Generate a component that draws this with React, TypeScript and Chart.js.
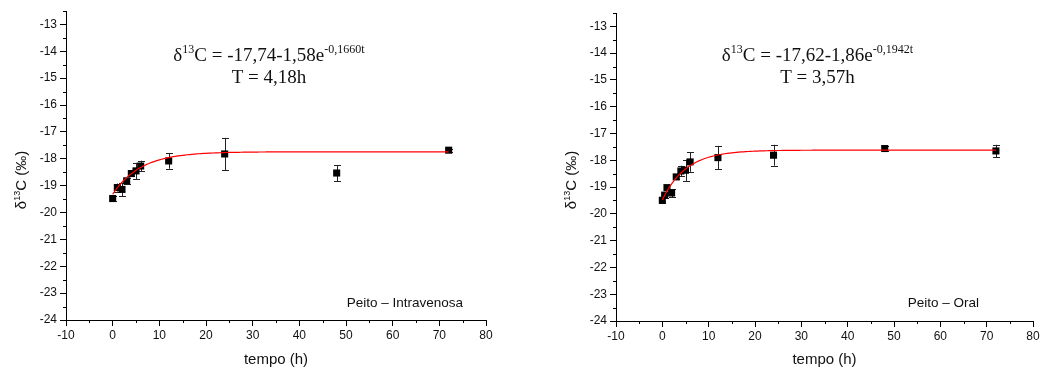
import React, { useEffect, useRef } from 'react';
import { Chart, registerables } from 'chart.js';
Chart.register(...registerables);

const xTicks = [-10, 0, 10, 20, 30, 40, 50, 60, 70, 80];
const yTicks = [-24, -23, -22, -21, -20, -19, -18, -17, -16, -15, -14, -13];
const xMinor = [-5, 5, 15, 25, 35, 45, 55, 65, 75];
const yMinor = [-23.5, -22.5, -21.5, -20.5, -19.5, -18.5, -17.5, -16.5, -15.5, -14.5, -13.5, -12.5];

// Peito – Intravenosa
const ivTime = [0, 1, 2, 3, 4, 5, 6, 12, 24, 48, 72];
const ivMean = [-19.48, -19.07, -19.14, -18.82, -18.55, -18.45, -18.27, -18.08, -17.82, -18.53, -17.68];
const ivErr = [0.08, 0.15, 0.25, 0.1, 0.08, 0.3, 0.2, 0.29, 0.6, 0.3, 0.05];
const ivFit = { a: -17.74, b: 1.58, k: 0.166 };

// Peito – Oral
const oralTime = [0, 0.5, 1, 2, 3, 4, 5, 6, 12, 24, 48, 72];
const oralMean = [-19.49, -19.3, -19.02, -19.22, -18.62, -18.4, -18.37, -18.06, -17.9, -17.81, -17.56, -17.65];
const oralErr = [0.1, 0.12, 0.1, 0.15, 0.08, 0.2, 0.4, 0.37, 0.44, 0.39, 0.1, 0.23];
const oralFit = { a: -17.62, b: 1.86, k: 0.1942 };

const fitTimes: number[] = [];
for (let t = 0; t <= 72; t += 0.5) fitTimes.push(t);

type Seg = [string, boolean];

interface PanelProps {
  width: number;
  padLeftAxis: number;
  padRight: number;
  padTop: number;
  xAxisH: number;
  time: number[];
  mean: number[];
  err: number[];
  fit: { a: number; b: number; k: number };
  eq: Seg[];
  line2: string;
  label: string;
  labelRightGap: number;
}

function drawSegs(ctx: CanvasRenderingContext2D, segs: Seg[], cx: number, y: number) {
  const normal = '19px "Liberation Serif", "Times New Roman", serif';
  const sup = '12px "Liberation Serif", "Times New Roman", serif';
  let total = 0;
  for (const [s, isSup] of segs) {
    ctx.font = isSup ? sup : normal;
    total += ctx.measureText(s).width;
  }
  let x = cx - total / 2;
  ctx.textAlign = 'left';
  ctx.textBaseline = 'alphabetic';
  for (const [s, isSup] of segs) {
    ctx.font = isSup ? sup : normal;
    ctx.fillText(s, x, isSup ? y - 8 : y);
    x += ctx.measureText(s).width;
  }
}

function Panel(p: PanelProps) {
  const ref = useRef<HTMLCanvasElement>(null);
  useEffect(() => {
    const pts = p.time.map((t, i) => ({ x: t, y: p.mean[i] }));
    const curve = fitTimes.map((t) => ({ x: t, y: p.fit.a - p.fit.b * Math.exp(-p.fit.k * t) }));
    const overlay = {
      id: 'overlay',
      beforeDatasetsDraw(chart: any) {
        const ctx = chart.ctx;
        const xs = chart.scales.x;
        const ys = chart.scales.y;
        ctx.save();
        ctx.strokeStyle = '#222';
        ctx.lineWidth = 1;
        p.time.forEach((t, i) => {
          const px = Math.round(xs.getPixelForValue(t)) + 0.5;
          const y1 = ys.getPixelForValue(p.mean[i] + p.err[i]);
          const y2 = ys.getPixelForValue(p.mean[i] - p.err[i]);
          ctx.beginPath();
          ctx.moveTo(px, y1);
          ctx.lineTo(px, y2);
          ctx.moveTo(px - 3.5, Math.round(y1) + 0.5);
          ctx.lineTo(px + 3.5, Math.round(y1) + 0.5);
          ctx.moveTo(px - 3.5, Math.round(y2) + 0.5);
          ctx.lineTo(px + 3.5, Math.round(y2) + 0.5);
          ctx.stroke();
        });
        ctx.restore();
      },
      afterDraw(chart: any) {
        const ctx = chart.ctx;
        const xs = chart.scales.x;
        const ys = chart.scales.y;
        const area = chart.chartArea;
        ctx.save();
        ctx.strokeStyle = '#000';
        ctx.lineWidth = 1;
        ctx.beginPath();
        xMinor.forEach((v) => {
          const px = Math.round(xs.getPixelForValue(v)) + 0.5;
          ctx.moveTo(px, area.bottom);
          ctx.lineTo(px, area.bottom + 3);
        });
        yMinor.forEach((v) => {
          const py = Math.round(ys.getPixelForValue(v)) + 0.5;
          ctx.moveTo(area.left, py);
          ctx.lineTo(area.left - 3, py);
        });
        ctx.stroke();
        ctx.fillStyle = '#111';
        drawSegs(ctx, p.eq, (area.left + area.right) / 2 - 7, 61);
        drawSegs(ctx, [[p.line2, false]], (area.left + area.right) / 2 - 7, 83);
        ctx.font = '13.5px "Liberation Sans", Arial, sans-serif';
        ctx.textAlign = 'right';
        ctx.fillText(p.label, area.right - p.labelRightGap, 307);
        // x title
        ctx.font = '15px "Liberation Sans", Arial, sans-serif';
        ctx.textAlign = 'center';
        ctx.fillText('tempo (h)', (area.left + area.right) / 2, 364);
        // y title
        const cy = 180;
        const tx = area.left - 45;
        ctx.translate(tx, cy);
        ctx.rotate(-Math.PI / 2);
        const big = '15px "Liberation Sans", Arial, sans-serif';
        const small = '9px "Liberation Sans", Arial, sans-serif';
        const segs: Seg[] = [['δ', false], ['13', true], ['C (‰)', false]];
        let tot = 0;
        segs.forEach(([s, sp]) => { ctx.font = sp ? small : big; tot += ctx.measureText(s).width; });
        let x = -tot / 2;
        ctx.textAlign = 'left';
        segs.forEach(([s, sp]) => {
          ctx.font = sp ? small : big;
          ctx.fillText(s, x, sp ? -1 : 5);
          x += ctx.measureText(s).width;
        });
        ctx.restore();
      },
    };
    const chart = new Chart(ref.current!, {
      type: 'scatter',
      data: {
        datasets: [
          {
            type: 'line',
            data: curve,
            borderColor: '#ff0000',
            borderWidth: 1.2,
            pointRadius: 0,
            fill: false,
            order: 0,
          } as any,
          {
            data: pts,
            pointStyle: 'rect',
            pointRadius: 5,
            backgroundColor: '#000',
            borderColor: '#000',
            borderWidth: 0,
            order: 1,
          },
        ],
      },
      options: {
        animation: false,
        responsive: false,
        events: [],
        layout: { padding: { left: 0, right: p.padRight, top: p.padTop, bottom: 0 } },
        plugins: { legend: { display: false }, tooltip: { enabled: false } },
        scales: {
          x: {
            type: 'linear',
            min: -10,
            max: 80,
            afterBuildTicks: (s: any) => { s.ticks = xTicks.map((v) => ({ value: v })); },
            afterFit: (s: any) => { s.height = p.xAxisH; },
            ticks: { color: '#111', font: { size: 12, family: '"Liberation Sans", Arial, sans-serif' }, padding: 2, maxRotation: 0, autoSkip: false },
            grid: { drawOnChartArea: false, drawTicks: true, tickLength: 6, color: '#000' },
            border: { display: true, color: '#000', width: 1 },
          },
          y: {
            type: 'linear',
            min: -24,
            max: -12.5,
            afterBuildTicks: (s: any) => { s.ticks = yTicks.map((v) => ({ value: v })); },
            afterFit: (s: any) => { s.width = p.padLeftAxis; },
            ticks: { color: '#111', font: { size: 12, family: '"Liberation Sans", Arial, sans-serif' }, padding: 3, autoSkip: false },
            grid: { drawOnChartArea: false, drawTicks: true, tickLength: 6, color: '#000' },
            border: { display: true, color: '#000', width: 1 },
          },
        },
      },
      plugins: [overlay],
    });
    return () => chart.destroy();
  }, []);
  return <canvas ref={ref} width={p.width} height={369} style={{ display: 'block', width: p.width, height: 369 }} />;
}

export default function App() {
  return (
    <div style={{ position: 'absolute', left: 0, top: 0, width: 1043, height: 369, background: '#fff', display: 'flex' }}>
      <Panel
        width={520}
        padLeftAxis={66}
        padRight={34}
        padTop={11}
        xAxisH={49}
        time={ivTime}
        mean={ivMean}
        err={ivErr}
        fit={ivFit}
        eq={[['δ', false], ['13', true], ['C = -17,74-1,58e', false], ['-0,1660t', true]]}
        line2="T = 4,18h"
        label="Peito – Intravenosa"
        labelRightGap={23}
      />
      <Panel
        width={523}
        padLeftAxis={96}
        padRight={10}
        padTop={13}
        xAxisH={48}
        time={oralTime}
        mean={oralMean}
        err={oralErr}
        fit={oralFit}
        eq={[['δ', false], ['13', true], ['C = -17,62-1,86e', false], ['-0,1942t', true]]}
        line2="T = 3,57h"
        label="Peito – Oral"
        labelRightGap={54}
      />
    </div>
  );
}
